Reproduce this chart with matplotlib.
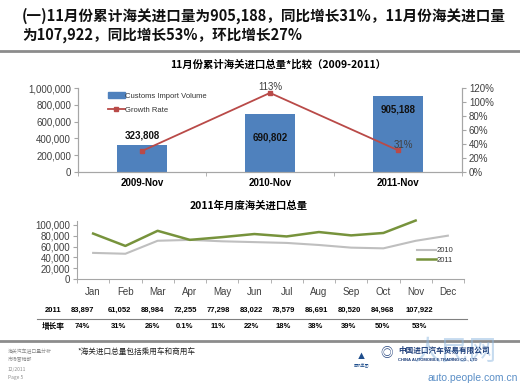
import matplotlib
matplotlib.use("Agg")
import matplotlib.pyplot as plt
from matplotlib.lines import Line2D
from matplotlib.patches import Patch
from matplotlib.ticker import FuncFormatter, FixedLocator

plt.rcParams["font.family"] = ["Liberation Sans", "Noto Sans CJK SC", "DejaVu Sans"]
CJK = ["Noto Sans CJK SC", "DejaVu Sans"]

# data
years = ["2009-Nov", "2010-Nov", "2011-Nov"]
ytd_volume = [323808, 690802, 905188]
ytd_growth = [0.30, 1.13, 0.31]

months = ["Jan", "Feb", "Mar", "Apr", "May", "Jun", "Jul", "Aug", "Sep", "Oct", "Nov", "Dec"]
vol_2010 = [48200, 46600, 70600, 72200, 69600, 68100, 66600, 62800, 57900, 56600, 70500, 80000]
vol_2011 = [83897, 61052, 88984, 72255, 77298, 83022, 78579, 86691, 80520, 84968, 107922]
growth_2011 = ["74%", "31%", "26%", "0.1%", "11%", "22%", "18%", "38%", "39%", "50%", "53%"]

W, H = 520, 389
fig = plt.figure(figsize=(W / 100, H / 100), dpi=100)


def px(x, y):
    return x / W, 1 - y / H


def ftext(x, y, s, **kw):
    fx, fy = px(x, y)
    fig.text(fx, fy, s, **kw)


def hline(y, x0=0, x1=W, color="#8c8c8c", lw=2):
    fig.add_artist(Line2D([x0 / W, x1 / W], [1 - y / H, 1 - y / H], color=color, lw=lw))


# slide heading
ftext(22, 16, "(一)11月份累计海关进口量为905,188，同比增长31%，11月份海关进口量",
      fontsize=10.5, fontweight="bold", family=CJK, va="center", color="#111111")
ftext(22, 35, "为107,922，同比增长53%，环比增长27%",
      fontsize=10.5, fontweight="bold", family=CJK, va="center", color="#111111")
hline(51)

grey = "#404040"
axc = "#a6a6a6"

# chart 1
ftext(278, 65, "11月份累计海关进口总量*比较（2009-2011）", fontsize=7.5,
      fontweight="bold", family=CJK, ha="center", va="center")
x0, y0 = px(78, 172)
x1, y1 = px(462, 88)
ax1 = fig.add_axes([x0, y0, x1 - x0, y1 - y0])
xs = range(len(years))
ax1.bar(xs, ytd_volume, width=0.39, color="#4f81bd", zorder=2)
ax1.set_xlim(-0.5, 2.5)
ax1.set_ylim(0, 1000000)
ax1.yaxis.set_major_locator(FixedLocator([0, 200000, 400000, 600000, 800000, 1000000]))
ax1.yaxis.set_major_formatter(FuncFormatter(lambda v, p: f"{int(v):,}"))
ax1.set_xticks(list(xs))
ax1.set_xticklabels(years, fontsize=7, fontweight="bold")
ax1.tick_params(axis="x", length=0, pad=4)
ax1.tick_params(axis="y", labelsize=7, labelcolor=grey, length=3, color=axc, pad=2)
ax1.set_xticks([-0.5, 0.5, 1.5, 2.5], minor=True)
ax1.tick_params(axis="x", which="minor", length=3, color=axc)
ax1.spines["top"].set_visible(False)
for s in ["left", "bottom", "right"]:
    ax1.spines[s].set_color(axc)

offs = [7, -17, -10]
for i, v in enumerate(ytd_volume):
    ax1.annotate(f"{v:,}", (i, v), xytext=(0, offs[i]), textcoords="offset points",
                 ha="center", va="center", fontsize=7, fontweight="bold", color="#111111")

ax2 = ax1.twinx()
ax2.plot(xs, ytd_growth, color="#b94a48", lw=1.3, marker="s", ms=2.5, zorder=3)
ax2.set_ylim(0, 1.2)
ax2.yaxis.set_major_locator(FixedLocator([0, 0.2, 0.4, 0.6, 0.8, 1.0, 1.2]))
ax2.yaxis.set_major_formatter(FuncFormatter(lambda v, p: f"{v * 100:.0f}%"))
ax2.tick_params(axis="y", labelsize=7, labelcolor=grey, length=3, color=axc, pad=2)
ax2.spines["top"].set_visible(False)
for s in ["left", "bottom", "right"]:
    ax2.spines[s].set_color(axc)
ax2.annotate(f"{ytd_growth[1] * 100:.0f}%", (1, ytd_growth[1]), xytext=(0, 4),
             textcoords="offset points", ha="center", va="center", fontsize=7, color=grey)
ax2.annotate(f"{ytd_growth[2] * 100:.0f}%", (2, ytd_growth[2]), xytext=(4, 4),
             textcoords="offset points", ha="center", va="center", fontsize=7, color=grey)

handles = [Patch(color="#4f81bd"),
           Line2D([], [], color="#b94a48", lw=1.3, marker="s", ms=2.5)]
ax2.legend(handles, ["Customs Import Volume", "Growth Rate"], loc="upper left",
           bbox_to_anchor=(0.06, 1.03), frameon=False, fontsize=5.5,
           handlelength=2.2, handletextpad=0.1, labelspacing=0.9,
           labelcolor="#333333")

# chart 2
ftext(249, 206, "2011年月度海关进口总量", fontsize=7.5, fontweight="bold",
      family=CJK, ha="center", va="center")
x0, y0 = px(77, 279)
x1, y1 = px(464, 220.5)
ax3 = fig.add_axes([x0, y0, x1 - x0, y1 - y0])
mx = range(len(months))
ax3.plot(mx, vol_2010, color="#bfbfbf", lw=1.5, label="2010", clip_on=False)
ax3.plot(range(len(vol_2011)), vol_2011, color="#77933c", lw=1.8, label="2011",
         clip_on=False)
ax3.set_xlim(-0.5, 11.5)
ax3.set_ylim(0, 108000)
ax3.yaxis.set_major_locator(FixedLocator([0, 20000, 40000, 60000, 80000, 100000]))
ax3.yaxis.set_major_formatter(FuncFormatter(lambda v, p: f"{int(v):,}"))
ax3.set_xticks(list(mx))
ax3.set_xticklabels(months, fontsize=7, color=grey)
ax3.tick_params(axis="x", length=0, pad=6)
ax3.set_xticks([i - 0.5 for i in range(13)], minor=True)
ax3.tick_params(axis="x", which="minor", length=3, color=axc)
ax3.tick_params(axis="y", labelsize=7, labelcolor=grey, length=3, color=axc, pad=2)
for s in ["top", "right"]:
    ax3.spines[s].set_visible(False)
for s in ["left", "bottom"]:
    ax3.spines[s].set_color(axc)
ax3.legend(loc="center right", bbox_to_anchor=(0.99, 0.4), frameon=False, fontsize=5.5,
           handlelength=2.5, handletextpad=0.1, labelspacing=0.3, labelcolor="#333333")

# table under chart 2
col_x = [82, 119, 152, 185, 218, 251, 283, 316, 349, 382, 419]
ftext(53, 310, "2011", fontsize=5.5, fontweight="bold", ha="center", va="center")
ftext(53, 327, "增长率", fontsize=5.5, fontweight="bold", family=CJK, ha="center", va="center")
for x, v, g in zip(col_x, vol_2011, growth_2011):
    ftext(x, 310, f"{v:,}", fontsize=5.5, fontweight="bold", ha="center", va="center")
    ftext(x, 327, g, fontsize=5.5, fontweight="bold", ha="center", va="center")
hline(319, 37, 467, color="#808080", lw=0.8)

# footer
hline(341)
for i, s in enumerate(["海关汽车进口量分析", "市场营销部", "12/2011", "Page 5"]):
    ftext(8, 351 + i * 9, s, fontsize=3.5, family=CJK, color="#8c8c8c", va="center")
ftext(77, 353, "*海关进口总量包括乘用车和商用车", fontsize=5.5, family=CJK,
      va="center", color="#222222")
ftext(455, 352, "人民网", fontsize=20, family=CJK, style="italic", color="#8fb8e0",
      alpha=0.5, ha="center", va="center")
ftext(361, 356, "▲", fontsize=8, color="#1f4e8c", ha="center", va="center")
ftext(361, 366, "国机集团", fontsize=2.8, family=CJK, color="#1f4e8c", ha="center", va="center")
ftext(387, 354, "◎", fontsize=9, color="#1f3f7a", ha="center", va="center")
ftext(398, 350, "中国进口汽车贸易有限公司", fontsize=5.5, fontweight="bold", family=CJK,
      color="#1f3f7a", va="center")
ftext(398, 359, "CHINA AUTOMOBILE TRADING CO., LTD", fontsize=3, fontweight="bold",
      color="#1f3f7a", va="center")
ftext(518, 378, "auto.people.com.cn", fontsize=7.5, color="#5b8fc7", ha="right", va="center")

fig.savefig("out.png", dpi=100)
